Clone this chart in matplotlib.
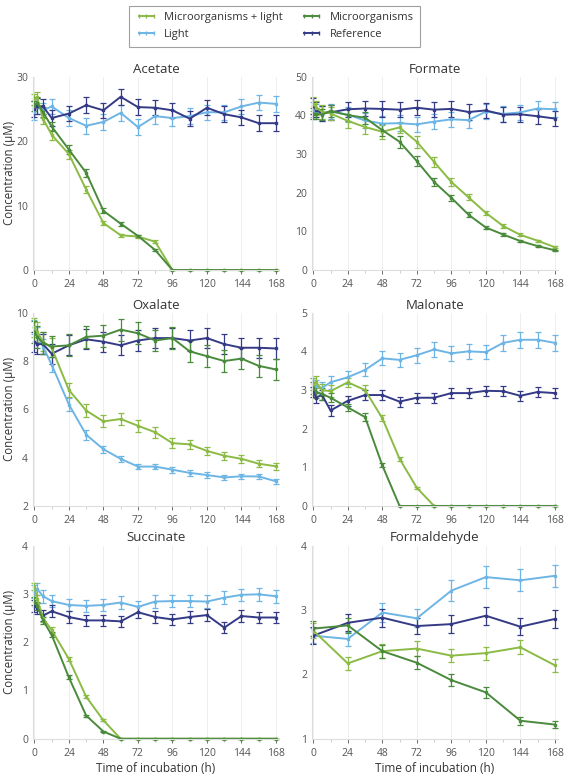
import numpy as np
import matplotlib
matplotlib.use("Agg")
import matplotlib.pyplot as plt
from matplotlib.lines import Line2D

plt.rcParams['font.family'] = ['Open Sans', 'DejaVu Sans']

# sampling times (h)
hours = [0, 2, 6, 12, 24, 36, 48, 60, 72, 84, 96, 108, 120, 132, 144, 156, 168]
hours_hcho = [0, 24, 48, 72, 96, 120, 144, 168]

series_names = ["Microorganisms + light", "Light", "Microorganisms", "Reference"]

# Acetate
acetate_ml = [26.5, 26.8, 23.5, 21.0, 18.0, 12.5, 7.3, 5.4, 5.2, 4.4, 0, 0, 0, 0, 0, 0, 0]
acetate_ml_err = [0.8, 0.8, 0.8, 0.8, 0.7, 0.6, 0.3, 0.2, 0.2, 0.2, 0, 0, 0, 0, 0, 0, 0]
acetate_l = [24.5, 25.5, 24.8, 25.4, 23.6, 22.4, 23.0, 24.4, 22.2, 23.9, 23.6, 23.9, 24.5, 24.5, 25.4, 26.0, 25.8]
acetate_l_err = [1.2] * 17
acetate_m = [25.5, 26.0, 24.5, 22.3, 18.7, 15.1, 9.2, 7.2, 5.3, 3.1, 0, 0, 0, 0, 0, 0, 0]
acetate_m_err = [0.8, 0.8, 0.8, 0.7, 0.7, 0.6, 0.4, 0.3, 0.2, 0.1, 0, 0, 0, 0, 0, 0, 0]
acetate_r = [25.0, 25.5, 25.4, 23.6, 24.3, 25.6, 24.8, 26.9, 25.3, 25.2, 24.8, 23.5, 25.2, 24.2, 23.7, 22.8, 22.8]
acetate_r_err = [1.2] * 17

# Formate
formate_ml = [43.0, 42.0, 41.0, 40.5, 38.6, 37.0, 35.8, 36.9, 33.2, 28.0, 22.8, 18.8, 14.8, 11.4, 9.1, 7.6, 5.9]
formate_ml_err = [1.8, 1.8, 1.8, 1.8, 1.8, 1.8, 1.8, 1.5, 1.5, 1.3, 1.0, 0.8, 0.6, 0.5, 0.4, 0.3, 0.3]
formate_l = [41.5, 41.0, 40.5, 41.0, 40.2, 38.7, 37.9, 38.0, 37.7, 38.4, 39.0, 38.8, 41.0, 40.4, 40.8, 41.8, 41.6]
formate_l_err = [2.0] * 17
formate_m = [40.5, 40.5, 40.2, 41.2, 40.1, 39.4, 36.2, 33.2, 28.2, 22.8, 18.7, 14.3, 11.0, 9.2, 7.5, 6.2, 5.1]
formate_m_err = [1.5, 1.5, 1.5, 1.5, 1.5, 1.5, 1.5, 1.5, 1.3, 1.1, 0.8, 0.6, 0.4, 0.3, 0.3, 0.2, 0.2]
formate_r = [42.5, 41.5, 40.5, 40.8, 41.6, 41.8, 41.7, 41.5, 42.0, 41.5, 41.7, 40.9, 41.3, 40.2, 40.3, 39.8, 39.2]
formate_r_err = [2.0] * 17

# Oxalate
oxalate_ml = [9.4, 9.2, 8.8, 8.55, 6.8, 5.95, 5.5, 5.6, 5.32, 5.05, 4.6, 4.55, 4.28, 4.08, 3.95, 3.75, 3.64]
oxalate_ml_err = [0.4, 0.4, 0.4, 0.4, 0.3, 0.28, 0.25, 0.25, 0.25, 0.22, 0.2, 0.2, 0.18, 0.17, 0.16, 0.15, 0.14]
oxalate_l = [9.4, 9.1, 8.6, 7.85, 6.2, 4.95, 4.35, 3.95, 3.63, 3.63, 3.5, 3.37, 3.28, 3.18, 3.23, 3.22, 3.02]
oxalate_l_err = [0.3, 0.3, 0.3, 0.3, 0.25, 0.2, 0.15, 0.13, 0.12, 0.12, 0.12, 0.12, 0.12, 0.11, 0.11, 0.11, 0.11]
oxalate_m = [9.2, 9.0, 8.75, 8.6, 8.65, 9.0, 9.05, 9.3, 9.15, 8.85, 8.95, 8.4, 8.2, 8.0, 8.1, 7.8, 7.65]
oxalate_m_err = [0.45] * 17
oxalate_r = [8.8, 8.7, 8.7, 8.3, 8.65, 8.9, 8.8, 8.65, 8.85, 8.95, 8.95, 8.85, 8.95, 8.7, 8.55, 8.55, 8.52]
oxalate_r_err = [0.42] * 17

# Malonate
malonate_ml = [3.15, 3.2, 3.0, 2.97, 3.2, 3.0, 2.27, 1.22, 0.47, 0, 0, 0, 0, 0, 0, 0, 0]
malonate_ml_err = [0.15, 0.15, 0.15, 0.15, 0.12, 0.12, 0.08, 0.05, 0.03, 0, 0, 0, 0, 0, 0, 0, 0]
malonate_l = [3.15, 3.1, 3.05, 3.2, 3.33, 3.52, 3.82, 3.78, 3.9, 4.05, 3.95, 4.0, 3.98, 4.22, 4.3, 4.3, 4.22]
malonate_l_err = [0.15, 0.15, 0.15, 0.17, 0.17, 0.17, 0.18, 0.18, 0.19, 0.19, 0.19, 0.19, 0.19, 0.2, 0.2, 0.2, 0.2]
malonate_m = [3.05, 2.95, 2.9, 2.8, 2.55, 2.3, 1.05, 0, 0, 0, 0, 0, 0, 0, 0, 0, 0]
malonate_m_err = [0.15, 0.15, 0.15, 0.12, 0.1, 0.1, 0.05, 0, 0, 0, 0, 0, 0, 0, 0, 0, 0]
malonate_r = [2.95, 2.8, 2.88, 2.47, 2.72, 2.87, 2.87, 2.7, 2.8, 2.8, 2.92, 2.92, 2.98, 2.97, 2.85, 2.95, 2.92]
malonate_r_err = [0.13] * 17

# Succinate
succinate_ml = [3.15, 2.9, 2.5, 2.25, 1.65, 0.87, 0.38, 0, 0, 0, 0, 0, 0, 0, 0, 0, 0]
succinate_ml_err = [0.08, 0.08, 0.08, 0.07, 0.05, 0.03, 0.02, 0, 0, 0, 0, 0, 0, 0, 0, 0, 0]
succinate_l = [3.05, 3.1, 2.95, 2.85, 2.77, 2.75, 2.77, 2.82, 2.73, 2.84, 2.85, 2.85, 2.84, 2.92, 2.98, 2.99, 2.95]
succinate_l_err = [0.13] * 17
succinate_m = [2.85, 2.75, 2.45, 2.15, 1.27, 0.48, 0.15, 0, 0, 0, 0, 0, 0, 0, 0, 0, 0]
succinate_m_err = [0.08, 0.08, 0.07, 0.05, 0.04, 0.02, 0.01, 0, 0, 0, 0, 0, 0, 0, 0, 0, 0]
succinate_r = [2.75, 2.7, 2.55, 2.64, 2.52, 2.45, 2.45, 2.43, 2.62, 2.52, 2.47, 2.52, 2.56, 2.3, 2.54, 2.51, 2.51]
succinate_r_err = [0.12] * 17

# Formaldehyde
hcho_ml = [2.68, 2.17, 2.36, 2.4, 2.29, 2.33, 2.42, 2.14]
hcho_ml_err = [0.12, 0.1, 0.11, 0.11, 0.1, 0.1, 0.11, 0.1]
hcho_l = [2.6, 2.55, 2.96, 2.87, 3.3, 3.51, 3.46, 3.53]
hcho_l_err = [0.12, 0.11, 0.14, 0.14, 0.16, 0.17, 0.17, 0.17]
hcho_m = [2.71, 2.76, 2.36, 2.18, 1.91, 1.72, 1.28, 1.22]
hcho_m_err = [0.12, 0.12, 0.1, 0.1, 0.09, 0.08, 0.06, 0.06]
hcho_r = [2.6, 2.8, 2.88, 2.75, 2.78, 2.91, 2.74, 2.86]
hcho_r_err = [0.13, 0.13, 0.14, 0.13, 0.14, 0.14, 0.13, 0.14]

colors = {"Microorganisms + light": "#8bbb45", "Light": "#6db5e5",
          "Microorganisms": "#4a8a3c", "Reference": "#343a86"}

panels = [
    ("Acetate", hours, [acetate_ml, acetate_l, acetate_m, acetate_r],
     [acetate_ml_err, acetate_l_err, acetate_m_err, acetate_r_err], (0, 30), [0, 10, 20, 30]),
    ("Formate", hours, [formate_ml, formate_l, formate_m, formate_r],
     [formate_ml_err, formate_l_err, formate_m_err, formate_r_err], (0, 50), [0, 10, 20, 30, 40, 50]),
    ("Oxalate", hours, [oxalate_ml, oxalate_l, oxalate_m, oxalate_r],
     [oxalate_ml_err, oxalate_l_err, oxalate_m_err, oxalate_r_err], (2, 10), [2, 4, 6, 8, 10]),
    ("Malonate", hours, [malonate_ml, malonate_l, malonate_m, malonate_r],
     [malonate_ml_err, malonate_l_err, malonate_m_err, malonate_r_err], (0, 5), [0, 1, 2, 3, 4, 5]),
    ("Succinate", hours, [succinate_ml, succinate_l, succinate_m, succinate_r],
     [succinate_ml_err, succinate_l_err, succinate_m_err, succinate_r_err], (0, 4), [0, 1, 2, 3, 4]),
    ("Formaldehyde", hours_hcho, [hcho_ml, hcho_l, hcho_m, hcho_r],
     [hcho_ml_err, hcho_l_err, hcho_m_err, hcho_r_err], (1, 4), [1, 2, 3, 4]),
]

fig = plt.figure(figsize=(5.68, 7.76), dpi=100)
lefts = [0.058, 0.549]
bottoms = [0.652, 0.348, 0.048]
w, h = 0.433, 0.249

for i, (title, t, vals, errs, ylim, yticks) in enumerate(panels):
    row, col = divmod(i, 2)
    ax = fig.add_axes([lefts[col], bottoms[row], w, h])
    for name in ["Light", "Reference", "Microorganisms + light", "Microorganisms"]:
        k = series_names.index(name)
        ax.errorbar(t, vals[k], yerr=errs[k], color=colors[name], lw=1.4,
                    marker="s", ms=2.0, capsize=2.2, elinewidth=0.9,
                    capthick=0.9, clip_on=False)
    ax.set_xlim(-1, 170)
    ax.set_ylim(*ylim)
    ax.set_yticks(yticks)
    ax.set_xticks(range(0, 169, 24))
    ax.set_xticks(range(12, 169, 24), minor=True)
    ax.set_title(title, fontsize=9.5, color="#333333", pad=3)
    ax.grid(True, axis="x", color="#eeeeee", lw=0.7)
    ax.set_axisbelow(True)
    for s in ["top", "right"]:
        ax.spines[s].set_visible(False)
    for s in ["left", "bottom"]:
        ax.spines[s].set_color("#dddddd")
        ax.spines[s].set_linewidth(0.8)
    ax.tick_params(labelsize=7.5, colors="#555555", length=3, width=0.6)
    ax.tick_params(which="minor", length=2, width=0.5, colors="#bbbbbb")
    ax.tick_params(axis="y", length=0)
    if col == 0:
        ax.set_ylabel("Concentration (\u03bcM)", fontsize=8.3, color="#333333")
        ax.yaxis.set_label_coords(-0.068, 0.5)
    if row == 2:
        ax.set_xlabel("Time of incubation (h)", fontsize=8.5, color="#333333", labelpad=2)

# legend: row 1 = M+L, M ; row 2 = Light, Reference (column-wise fill)
order = ["Microorganisms + light", "Light", "Microorganisms", "Reference"]
leg_handles = [Line2D([], [], color=colors[n], lw=1.4, marker="|", ms=3, mew=1.0)
               for n in order]
leg = fig.legend(leg_handles, order, ncol=2, loc="upper center", numpoints=3,
                 bbox_to_anchor=(0.483, 1.0), fontsize=8, frameon=True, fancybox=False,
                 edgecolor="#888888", handlelength=2.0, columnspacing=1.6,
                 borderpad=0.6, labelspacing=0.55, handletextpad=0.6)
leg.get_frame().set_linewidth(0.8)
for txt in leg.get_texts():
    txt.set_color("#333333")

fig.savefig("out.png", dpi=100)
